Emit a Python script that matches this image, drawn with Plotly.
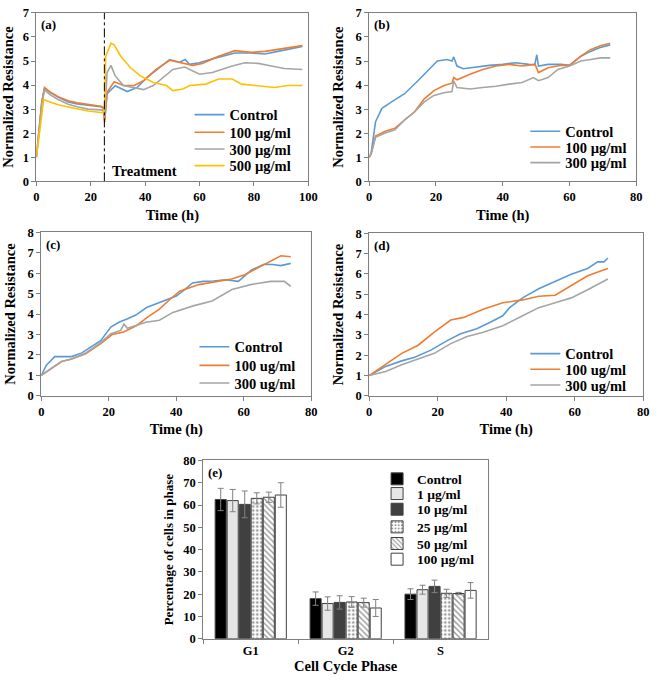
import plotly.graph_objects as go

# ---------------- panel (a) ----------------
a_ctrl_t = [0, 1, 2, 3, 5, 8, 11.7, 15, 19, 23.7, 24.6, 25.1, 26, 29, 33.4, 37, 40.6, 45.4, 49, 52.7, 54.7, 56.3, 59.9, 66, 73, 79, 84, 88.8, 93.6, 97.8]
a_ctrl_y = [1.0, 2.1, 3.3, 3.87, 3.7, 3.5, 3.3, 3.22, 3.16, 3.1, 3.05, 2.55, 3.64, 3.97, 3.73, 3.9, 4.31, 4.72, 5.06, 4.95, 5.06, 4.86, 4.93, 5.13, 5.33, 5.33, 5.29, 5.4, 5.5, 5.6]
a_100_t = [0, 1, 2, 3, 5, 8, 11.7, 15, 19, 23.7, 24.6, 25.1, 26, 28.6, 32, 36, 39.4, 44, 49, 52.7, 57.5, 61, 67, 73, 79, 84, 90, 97.8]
a_100_y = [1.0, 2.1, 3.3, 3.9, 3.72, 3.52, 3.35, 3.26, 3.2, 3.12, 3.08, 2.45, 3.7, 4.14, 3.98, 3.98, 4.18, 4.65, 5.03, 4.93, 4.82, 4.9, 5.2, 5.43, 5.36, 5.4, 5.5, 5.64]
a_300_t = [0, 1, 2, 3, 5, 8, 11.7, 15, 19, 23.7, 24.6, 25.1, 26, 27.4, 29, 32, 35.8, 39.4, 43, 47.8, 50.2, 54.5, 60, 64.7, 72, 76.7, 81.6, 86.4, 91.2, 97.8]
a_300_y = [1.0, 2.0, 3.2, 3.8, 3.6, 3.4, 3.2, 3.1, 3.0, 2.97, 2.95, 2.7, 4.52, 4.82, 4.38, 3.98, 3.9, 3.81, 3.98, 4.45, 4.65, 4.75, 4.45, 4.52, 4.79, 4.93, 4.9, 4.79, 4.69, 4.65]
a_500_t = [0, 1, 2, 2.7, 5, 8, 11.7, 15, 19, 23.7, 24.6, 25.1, 25.5, 27.4, 28.6, 31, 34.6, 38.2, 43, 47.8, 50.2, 53.9, 56.3, 62.3, 67, 72, 75.5, 80.4, 87.6, 92.4, 97.8]
a_500_y = [1.0, 1.9, 3.0, 3.4, 3.3, 3.18, 3.09, 3.0, 2.92, 2.86, 2.85, 3.1, 5.2, 5.74, 5.67, 5.2, 4.72, 4.38, 4.11, 3.98, 3.77, 3.84, 3.98, 4.04, 4.25, 4.25, 4.04, 3.98, 3.9, 3.98, 3.98]

# ---------------- panel (b) ----------------
b_ctrl_t = [0, 0.6, 1.9, 3.8, 6.7, 10.6, 14.6, 17.5, 20.4, 23.3, 24.8, 25.3, 26.3, 28.2, 32.1, 36, 40, 43.8, 47.8, 49.6, 50.2, 50.7, 53.6, 57.5, 60, 63.4, 66.3, 69.2, 72.2]
b_ctrl_y = [1.0, 1.2, 2.48, 3.03, 3.3, 3.64, 4.18, 4.59, 5.0, 5.06, 5.0, 5.17, 4.79, 4.68, 4.76, 4.82, 4.86, 4.93, 4.86, 4.85, 5.26, 4.79, 4.86, 4.86, 4.82, 5.2, 5.4, 5.56, 5.67]
b_100_t = [0, 0.6, 1.9, 4.8, 7.7, 10.6, 13.6, 16.5, 19.4, 22.4, 24.8, 25.3, 26.3, 30.2, 34, 38, 41.9, 45.8, 49.7, 50.7, 53.6, 57.5, 60, 63.4, 66.3, 69.2, 72.2]
b_100_y = [1.0, 1.15, 1.88, 2.08, 2.21, 2.55, 2.89, 3.43, 3.77, 3.98, 4.08, 4.31, 4.22, 4.45, 4.65, 4.79, 4.86, 4.79, 4.86, 4.52, 4.72, 4.82, 4.82, 5.2, 5.47, 5.63, 5.74]
b_300_t = [0, 0.6, 1.9, 4.8, 7.7, 10.6, 13.6, 16.5, 19.4, 22.4, 24.8, 25.3, 26.3, 30.2, 34, 38, 41.9, 45.8, 49.2, 50.7, 53.6, 56.5, 60, 63.4, 66.3, 69.2, 72.2]
b_300_y = [1.0, 1.15, 1.83, 2.01, 2.14, 2.55, 2.89, 3.3, 3.57, 3.68, 3.73, 4.18, 3.9, 3.84, 3.9, 3.95, 4.04, 4.11, 4.31, 4.18, 4.31, 4.65, 4.79, 5.0, 5.06, 5.13, 5.13]

# ---------------- panel (c) ----------------
c_ctrl_t = [0, 1.5, 4, 9, 12, 14.5, 17.6, 20.6, 23, 25.4, 28, 31.2, 35, 40, 42.5, 44.8, 48, 51, 54.5, 58.4, 62.3, 66, 68.5, 71, 73.9]
c_ctrl_y = [1.0, 1.5, 1.92, 1.92, 2.1, 2.35, 2.7, 3.36, 3.6, 3.76, 3.95, 4.32, 4.55, 4.88, 5.2, 5.52, 5.6, 5.62, 5.68, 5.6, 6.16, 6.43, 6.42, 6.37, 6.48]
c_100_t = [0, 2.5, 6, 9, 13, 17.6, 21, 24.4, 28.3, 31.5, 35, 38, 41, 46.7, 51, 56.4, 60.3, 63, 66, 69, 71, 73.9]
c_100_y = [1.0, 1.28, 1.68, 1.8, 2.05, 2.56, 3.0, 3.12, 3.44, 3.85, 4.24, 4.7, 5.12, 5.44, 5.55, 5.71, 5.92, 6.15, 6.43, 6.7, 6.85, 6.8]
c_300_t = [0, 2.5, 6, 9, 13, 17.6, 20.6, 23.5, 24.5, 25.5, 31, 35, 39, 45, 50.6, 56.5, 62, 68, 72, 73.9]
c_300_y = [1.0, 1.28, 1.68, 1.8, 2.08, 2.6, 3.04, 3.2, 3.5, 3.3, 3.6, 3.7, 4.08, 4.4, 4.64, 5.2, 5.44, 5.6, 5.6, 5.36]

# ---------------- panel (d) ----------------
d_ctrl_t = [0, 4.8, 9.5, 13.3, 18, 22.9, 26.7, 31.4, 35.2, 39, 41, 44.8, 49.5, 54.3, 59, 63.8, 66.7, 68.6, 69.7]
d_ctrl_y = [1.0, 1.45, 1.72, 1.9, 2.25, 2.73, 3.05, 3.3, 3.61, 3.94, 4.34, 4.82, 5.27, 5.62, 5.98, 6.27, 6.59, 6.59, 6.78]
d_100_t = [0, 4.8, 9.5, 14.3, 19, 23.8, 27.6, 33.3, 39, 44.8, 49.5, 54.3, 56.2, 60, 63.8, 67.6, 69.7]
d_100_y = [1.0, 1.53, 2.09, 2.49, 3.13, 3.73, 3.86, 4.26, 4.58, 4.72, 4.9, 4.95, 5.14, 5.54, 5.91, 6.14, 6.27]
d_300_t = [0, 4.8, 9.5, 14.3, 19, 23.8, 28.6, 33.3, 39, 44.8, 49.5, 54.3, 59, 63.8, 67.6, 69.7]
d_300_y = [1.0, 1.2, 1.53, 1.8, 2.09, 2.57, 2.92, 3.13, 3.45, 3.94, 4.34, 4.58, 4.82, 5.22, 5.54, 5.75]

# ---------------- panel (e) ----------------
phases = ["G1", "G2", "S"]
e_groups = ["Control", "1 µg/ml", "10 µg/ml", "25 µg/ml", "50 µg/ml", "100 µg/ml"]
e_means = [
    [62.5, 18.0, 20.0],
    [62.0, 15.8, 22.0],
    [60.3, 16.3, 23.5],
    [63.0, 16.5, 20.4],
    [63.5, 16.2, 20.3],
    [64.5, 13.8, 21.7],
]
e_errs = [
    [5.0, 3.0, 2.4],
    [5.0, 3.0, 2.0],
    [6.0, 3.0, 2.8],
    [2.5, 2.4, 1.8],
    [2.3, 2.0, 0.5],
    [5.5, 3.8, 3.5],
]

BLUE, ORANGE, GRAY, YELLOW = "#5B9BD5", "#ED7D31", "#A5A5A5", "#FFC000"
SERIF = "Liberation Serif"
LINE_W = 1.6


def px_x(p):
    return p / 660


def px_y(p):
    return 1 - p / 681


fig = go.Figure()
layout = {}
leg_font = dict(family=SERIF, size=14.5, color="black", weight="bold")
leg_common = dict(font=leg_font, bgcolor="rgba(0,0,0,0)", xanchor="left", yanchor="middle",
                  itemwidth=30, itemclick=False, borderwidth=0)

# each legend entry gets its own legend box so rows can sit tight like the original
# (axis suffix, text x start in px, row centres in px, series)
panels = [
    ("", 228, [110, 128, 145, 162],
     [(a_ctrl_t, a_ctrl_y, "Control", BLUE), (a_100_t, a_100_y, "100 µg/ml", ORANGE),
      (a_300_t, a_300_y, "300 µg/ml", GRAY), (a_500_t, a_500_y, "500 µg/ml", YELLOW)]),
    ("2", 570, [127, 143, 159],
     [(b_ctrl_t, b_ctrl_y, "Control", BLUE), (b_100_t, b_100_y, "100 µg/ml", ORANGE),
      (b_300_t, b_300_y, "300 µg/ml", GRAY)]),
    ("3", 233, [347, 366, 384],
     [(c_ctrl_t, c_ctrl_y, "Control", BLUE), (c_100_t, c_100_y, "100 ug/ml", ORANGE),
      (c_300_t, c_300_y, "300 ug/ml", GRAY)]),
    ("4", 570, [354, 370, 386],
     [(d_ctrl_t, d_ctrl_y, "Control", BLUE), (d_100_t, d_100_y, "100 ug/ml", ORANGE),
      (d_300_t, d_300_y, "300 ug/ml", GRAY)]),
]

n_leg = 0
for ax, tx, rows, series in panels:
    for (t, y, name, col), ry in zip(series, rows):
        n_leg += 1
        leg = "legend" if n_leg == 1 else f"legend{n_leg}"
        layout[leg] = dict(leg_common, x=px_x(tx - 38), y=px_y(ry))
        fig.add_trace(go.Scatter(x=t, y=y, mode="lines", name=name, line=dict(color=col, width=LINE_W),
                                 xaxis="x" + ax, yaxis="y" + ax, legend=leg))

# bar panel
fills = ["#000000", "#e6e6e6", "#404040", "#ffffff", "#ffffff", "#ffffff"]
patterns = ["", "", "", ".", "\\", ""]
e_rows = [482, 497, 513, 531, 548, 564]
for i, name in enumerate(e_groups):
    n_leg += 1
    leg = f"legend{n_leg}"
    layout[leg] = dict(leg_common, x=px_x(419 - 38), y=px_y(e_rows[i]), font=dict(leg_font, size=13.5))
    fig.add_trace(go.Bar(
        x=phases, y=e_means[i], name=name, xaxis="x5", yaxis="y5", legend=leg,
        marker=dict(color=fills[i], line=dict(color="#404040", width=1),
                    pattern=dict(shape=patterns[i], fgcolor="#303030", size=4, solidity=0.35)),
        error_y=dict(type="data", array=e_errs[i], color="#808080", thickness=1, width=3),
    ))

tick_font = dict(family=SERIF, size=12.5, color="black", weight="bold")
title_font = dict(family=SERIF, size=14.5, color="black", weight="bold")
axis_common = dict(showline=True, linecolor="#7f7f7f", linewidth=1, mirror=True, showgrid=False,
                   zeroline=False, ticks="outside", ticklen=4, tickcolor="#7f7f7f", tickfont=tick_font)

# domains in pixels
dom = {
    "": ((34, 311), (6, 178), (0, 100), (0, 7)),
    "2": ((373, 645), (6, 178), (0, 80), (0, 7)),
    "3": ((39, 314), (230, 397), (0, 80), (0, 8)),
    "4": ((373, 652), (231, 397), (0, 80), (0, 8)),
}
for ax, ((x0, x1), (yt, yb), xr, yr) in dom.items():
    layout["xaxis" + ax] = dict(axis_common, domain=[px_x(x0), px_x(x1)], range=list(xr), dtick=20,
                                anchor="y" + ax, title=dict(text="Time (h)", font=title_font, standoff=6))
    layout["yaxis" + ax] = dict(axis_common, domain=[px_y(yb), px_y(yt)], range=list(yr), dtick=1,
                                anchor="x" + ax, title=dict(text="Normalized Resistance", font=title_font, standoff=8))

layout["xaxis5"] = dict(axis_common, domain=[px_x(204), px_x(494)], anchor="y5", tickson="boundaries",
                        title=dict(text="Cell Cycle Phase", font=title_font, standoff=2))
layout["yaxis5"] = dict(axis_common, domain=[px_y(645), px_y(463)], range=[0, 80], dtick=10, anchor="x5",
                        title=dict(text="Percentage of cells in phase", font=dict(title_font, size=13), standoff=6))

fig.update_layout(
    **layout,
    width=660, height=681,
    margin=dict(l=0, r=0, t=0, b=0),
    paper_bgcolor="white", plot_bgcolor="white",
    barmode="group", bargap=0.24, bargroupgap=0.08,
    showlegend=True,
)

lab_font = dict(family=SERIF, size=13, color="black", weight="bold")
for ax, lab in [("", "(a)"), ("2", "(b)"), ("3", "(c)"), ("4", "(d)"), ("5", "(e)")]:
    fig.add_annotation(text=lab, xref="x" + ax + " domain", yref="y" + ax + " domain",
                       x=0.01, y=0.985, xanchor="left", yanchor="top", showarrow=False, font=lab_font)

# treatment marker in panel (a)
fig.add_shape(type="line", x0=25, x1=25, y0=0, y1=7, xref="x", yref="y",
              line=dict(color="black", width=1, dash="dashdot"))
fig.add_annotation(text="Treatment", x=27, y=0.45, xref="x", yref="y", xanchor="left",
                   showarrow=False, font=dict(family=SERIF, size=14.5, color="black", weight="bold"))

fig.write_html("out.html", config={"displayModeBar": False},
               post_script="document.body.style.margin='0';")
